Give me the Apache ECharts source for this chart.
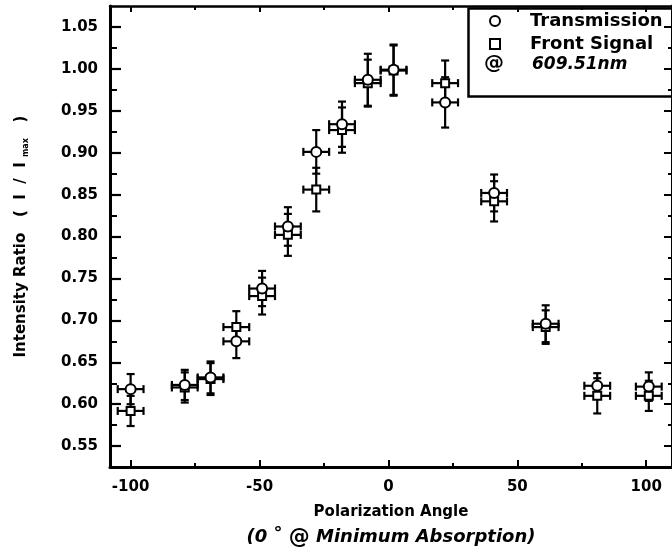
<!DOCTYPE html>
<html>
<head>
<meta charset="utf-8">
<script src="https://cdn.jsdelivr.net/npm/echarts@6/dist/echarts.min.js"></script>
<style>html,body{margin:0;padding:0;background:#fff}#c{width:672px;height:555px}</style>
</head>
<body>
<div id="c"></div>
<script>
// ---- data ----
const angles = [-100, -79, -69, -59, -49, -39, -28, -18, -8, 2, 22, 41, 61, 81, 101];
const transmission = [0.618, 0.623, 0.632, 0.675, 0.738, 0.812, 0.901, 0.934, 0.987, 0.999, 0.960, 0.852, 0.696, 0.622, 0.621];
const transErr = [0.018, 0.018, 0.019, 0.020, 0.021, 0.023, 0.026, 0.027, 0.031, 0.030, 0.030, 0.022, 0.022, 0.015, 0.017];
const frontSignal = [0.592, 0.620, 0.630, 0.692, 0.729, 0.802, 0.856, 0.927, 0.983, 0.998, 0.983, 0.842, 0.692, 0.610, 0.610];
const frontErr = [0.018, 0.018, 0.019, 0.019, 0.022, 0.025, 0.026, 0.027, 0.028, 0.030, 0.027, 0.024, 0.020, 0.021, 0.018];
const angleErr = [5, 5, 5, 5, 5, 5, 5, 5, 5, 5, 5, 5, 5, 5, 5];
const xMajorTicks = [-100, -50, 0, 50, 100];
const xMinorTicks = [-75, -25, 25, 75];
const yMajorTicks = [0.55, 0.60, 0.65, 0.70, 0.75, 0.80, 0.85, 0.90, 0.95, 1.00, 1.05];
const yMinorTicks = [0.575, 0.625, 0.675, 0.725, 0.775, 0.825, 0.875, 0.925, 0.975, 1.025];

const FONT = 'DejaVu Sans';
const chart = echarts.init(document.getElementById('c'), null, {renderer: 'canvas'});

function buildErr(vals, errs) {
  return angles.map((a, i) => [a, vals[i], errs[i], angleErr[i]]);
}

function errRender(params, api) {
  const x = api.value(0), y = api.value(1), ye = api.value(2), xe = api.value(3);
  const t = api.coord([x, y + ye]), b = api.coord([x, y - ye]);
  const l = api.coord([x - xe, y]), r = api.coord([x + xe, y]);
  const cap = 4;
  const st = {stroke: '#000', lineWidth: 2.2};
  const line = (x1, y1, x2, y2) => ({type: 'line', shape: {x1, y1, x2, y2}, style: st});
  return {type: 'group', children: [
    line(t[0], t[1], b[0], b[1]),
    line(t[0] - cap, t[1], t[0] + cap, t[1]),
    line(b[0] - cap, b[1], b[0] + cap, b[1]),
    line(l[0], l[1], r[0], r[1]),
    line(l[0], l[1] - cap, l[0], l[1] + cap),
    line(r[0], r[1] - cap, r[0], r[1] + cap)
  ]};
}

const xBase = {type: 'value', min: -108, max: 110, splitLine: {show: false}, gridIndex: 0};
const yBase = {type: 'value', min: 0.525, max: 1.075, splitLine: {show: false}, gridIndex: 0};
const noLine = {show: false, onZero: false};

const option = {
  animation: false,
  backgroundColor: '#fff',
  grid: {left: 110, right: -2, top: 6, bottom: 87, containLabel: false},
  xAxis: [
    Object.assign({}, xBase, {
      position: 'bottom',
      axisLine: {show: true, onZero: false, lineStyle: {color: '#000', width: 3}},
      axisTick: {show: true, inside: true, length: 7, lineStyle: {color: '#000', width: 2}, customValues: xMajorTicks},
      axisLabel: {show: true, customValues: xMajorTicks, color: '#000', fontFamily: FONT, fontWeight: 'bold', fontSize: 15, margin: 13},
      name: 'Polarization Angle\n{i|(0 }{d|°}{i| }{a|@}{i| Minimum Absorption)}',
      nameLocation: 'middle',
      nameGap: 32,
      nameTextStyle: {color: '#000', fontFamily: FONT, fontWeight: 'bold', fontSize: 15, lineHeight: 25,
        rich: {
          i: {fontFamily: FONT, fontWeight: 'bold', fontStyle: 'italic', fontSize: 18, lineHeight: 25, color: '#000'},
          d: {fontFamily: FONT, fontWeight: 'bold', fontStyle: 'italic', fontSize: 18, lineHeight: 25, color: '#000', padding: [0, 0, 6, 0]},
          a: {fontFamily: FONT, fontWeight: 'bold', fontSize: 21, lineHeight: 25, color: '#000'}
        }}
    }),
    Object.assign({}, xBase, {
      position: 'bottom',
      axisLine: noLine,
      axisTick: {show: true, inside: true, length: 4, lineStyle: {color: '#000', width: 2}, customValues: xMinorTicks},
      axisLabel: {show: false}
    }),
    Object.assign({}, xBase, {
      position: 'top',
      axisLine: {show: true, onZero: false, lineStyle: {color: '#000', width: 2.5}},
      axisTick: {show: true, inside: true, length: 6, lineStyle: {color: '#000', width: 2}, customValues: xMajorTicks},
      axisLabel: {show: false}
    }),
    Object.assign({}, xBase, {
      position: 'top',
      axisLine: noLine,
      axisTick: {show: true, inside: true, length: 4, lineStyle: {color: '#000', width: 2}, customValues: xMinorTicks},
      axisLabel: {show: false}
    })
  ],
  yAxis: [
    Object.assign({}, yBase, {
      position: 'left',
      axisLine: {show: true, onZero: false, lineStyle: {color: '#000', width: 3}},
      axisTick: {show: true, inside: true, length: 11, lineStyle: {color: '#000', width: 2.2}, customValues: yMajorTicks},
      axisLabel: {show: true, customValues: yMajorTicks, formatter: v => v.toFixed(2), color: '#000', fontFamily: FONT, fontWeight: 'bold', fontSize: 15, margin: 12},
      name: 'Intensity Ratio   (  I  /  I {s|max}   )',
      nameLocation: 'middle',
      nameGap: 80,
      nameTextStyle: {color: '#000', fontFamily: FONT, fontWeight: 'bold', fontSize: 15,
        rich: {s: {fontFamily: FONT, fontWeight: 'bold', fontSize: 8, padding: [9, 0, 0, 0], color: '#000'}}}
    }),
    Object.assign({}, yBase, {
      position: 'left',
      axisLine: noLine,
      axisTick: {show: true, inside: true, length: 7, lineStyle: {color: '#000', width: 2}, customValues: yMinorTicks},
      axisLabel: {show: false}
    }),
    Object.assign({}, yBase, {
      position: 'right',
      axisLine: {show: true, onZero: false, lineStyle: {color: '#000', width: 3}},
      axisTick: {show: true, inside: true, length: 8, lineStyle: {color: '#000', width: 2}, customValues: yMajorTicks},
      axisLabel: {show: false}
    }),
    Object.assign({}, yBase, {
      position: 'right',
      axisLine: noLine,
      axisTick: {show: true, inside: true, length: 4, lineStyle: {color: '#000', width: 2}, customValues: yMinorTicks},
      axisLabel: {show: false}
    })
  ],
  legend: {
    orient: 'vertical',
    left: 489,
    top: 12,
    padding: 0,
    itemGap: 5,
    itemWidth: 10,
    itemHeight: 10,
    data: ['Transmission', 'Front Signal'],
    textStyle: {color: '#000', fontFamily: FONT, fontWeight: 'bold', fontSize: 18, lineHeight: 17, padding: [0, 0, 0, 25]}
  },
  graphic: [
    {type: 'rect', left: 466, top: 6, shape: {width: 220, height: 88}, style: {fill: 'none', stroke: '#000', lineWidth: 2.5}, z: 10},
    {type: 'text', left: 484, top: 54, style: {text: '@', fill: '#000', font: 'bold 20px "DejaVu Sans"'}, z: 11},
    {type: 'text', left: 532, top: 56, style: {text: '609.51nm', fill: '#000', font: 'italic bold 17px "DejaVu Sans"'}, z: 11}
  ],
  series: [
    {name: 'TransErr', type: 'custom', renderItem: errRender, data: buildErr(transmission, transErr), z: 2, silent: true},
    {name: 'FrontErr', type: 'custom', renderItem: errRender, data: buildErr(frontSignal, frontErr), z: 2, silent: true},
    {name: 'Front Signal', type: 'scatter', symbol: 'rect', symbolSize: 8,
      itemStyle: {color: '#fff', borderColor: '#000', borderWidth: 2, opacity: 1},
      data: angles.map((a, i) => [a, frontSignal[i]]), z: 3},
    {name: 'Transmission', type: 'scatter', symbol: 'circle', symbolSize: 10,
      itemStyle: {color: '#fff', borderColor: '#000', borderWidth: 2, opacity: 1},
      data: angles.map((a, i) => [a, transmission[i]]), z: 4}
  ]
};
chart.setOption(option);
</script>
</body>
</html>
